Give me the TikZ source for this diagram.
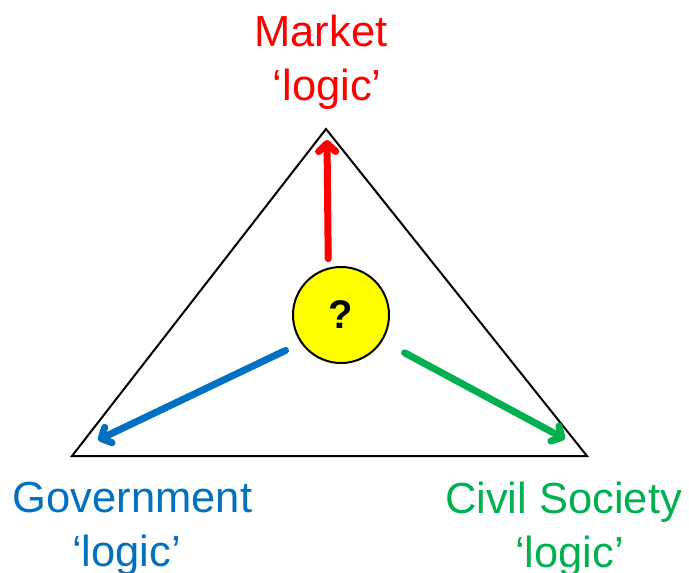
\documentclass[tikz,border=0pt]{standalone}
\usepackage{fontspec}
\setmainfont{Liberation Sans}
\usepackage{tikz}
\usetikzlibrary{arrows.meta,positioning,calc}
\definecolor{mktred}{RGB}{255,0,0}
\definecolor{govblue}{RGB}{0,112,192}
\definecolor{civgreen}{RGB}{0,176,80}
\definecolor{qyellow}{RGB}{255,255,0}

\begin{document}
\begin{tikzpicture}[x=1pt, y=-1pt,
    logicarrow/.style={line width=7pt, line cap=round, -{Straight Barb[length=8pt, width=17pt, round]}},
    logiclabel/.style={align=center, inner sep=0pt, font=\fontsize{43.5}{54}\selectfont}]
  \useasboundingbox (0,0) rectangle (689,573);
  % corners of the triangle
  \coordinate (top) at (326,129);
  \coordinate (left) at (72,456);
  \coordinate (right) at (587,456);
  \draw[line width=2pt, line join=miter] (top) -- (left) -- (right) -- cycle;
  \node[circle, draw, line width=2pt, fill=qyellow, minimum size=96pt, inner sep=0pt,
        font=\fontsize{40}{40}\selectfont\bfseries] (q) at (341,315) {?};
  % arrow tips
  \coordinate (mkttip) at (327,140);
  \coordinate (govtip) at (98,440);
  \coordinate (civtip) at (565,439);
  \draw[logicarrow, mktred, shorten <=9pt] (q.105) -- (mkttip);
  \draw[logicarrow, govblue, shorten <=17pt] (q.215) -- (govtip);
  \draw[logicarrow, civgreen, shorten <=25pt] (q.328) -- (civtip);
  \node[logiclabel, text=mktred] (market) at (321,62) {Market\\\hspace*{0.28em}‘logic’};
  \node[logiclabel, text=govblue] (gov) at (132.5,529) {Government\\‘logic’\hspace*{0.28em}};
  \node[logiclabel, text=civgreen] (civil) at (563.5,529) {Civil Society\\\hspace*{0.28em}‘logic’};
\end{tikzpicture}
\end{document}
